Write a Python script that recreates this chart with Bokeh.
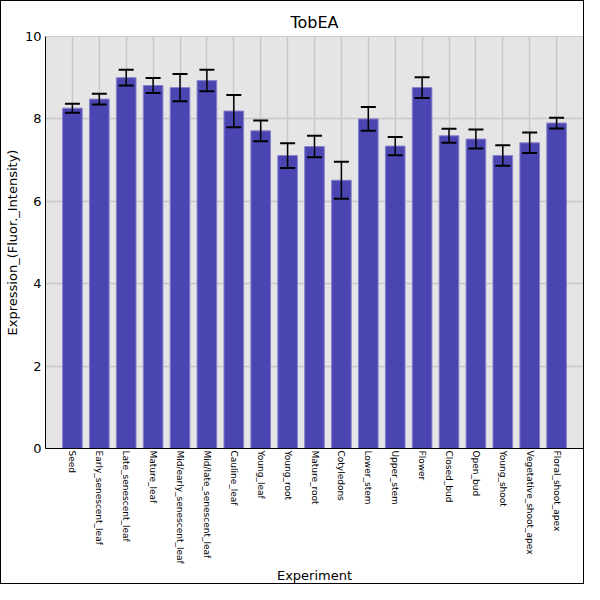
import math
from bokeh.plotting import figure
from bokeh.models import ColumnDataSource, Range1d, FixedTicker, Whisker, TeeHead
from bokeh.embed import file_html
from bokeh.resources import INLINE

categories = ["Seed", "Early_senescent_leaf", "Late_senescent_leaf", "Mature_leaf",
              "Mid/early_senescent_leaf", "Mid/late_senescent_leaf", "Cauline_leaf",
              "Young_leaf", "Young_root", "Mature_root", "Cotyledons", "Lower_stem",
              "Upper_stem", "Flower", "Closed_bud", "Open_bud", "Young_shoot",
              "Vegetative_shoot_apex", "Floral_shoot_apex"]
means = [8.26, 8.48, 9.00, 8.81, 8.76, 8.93, 8.19, 7.71, 7.11, 7.33, 6.51, 8.00,
         7.34, 8.76, 7.59, 7.51, 7.11, 7.42, 7.90]
errors = [0.11, 0.13, 0.19, 0.18, 0.33, 0.26, 0.39, 0.25, 0.30, 0.26, 0.45, 0.29,
          0.22, 0.25, 0.17, 0.23, 0.25, 0.25, 0.13]
y_ticks = [0, 2, 4, 6, 8, 10]

idx = list(range(len(categories)))
src = ColumnDataSource(dict(
    x=idx, top=means,
    upper=[m + e for m, e in zip(means, errors)],
    lower=[m - e for m, e in zip(means, errors)],
))

p = figure(width=584, height=584, output_backend="svg", toolbar_location=None,
           x_range=Range1d(-1, len(categories)), y_range=Range1d(0, 10),
           title="TobEA", min_border_left=42, min_border_right=2,
           min_border_top=35, min_border_bottom=130)
p.styles = {"border": "1px solid black"}

p.title.align = "center"
p.title.text_font = "DejaVu Sans"
p.title.text_font_size = "16px"
p.title.text_font_style = "normal"
p.title.text_color = "black"

p.background_fill_color = "#e5e5e5"
p.border_fill_color = "white"
p.outline_line_color = "#cccccc"

p.vbar(x="x", top="top", bottom=0, width=0.73, source=src,
       fill_color="#4b45b2", line_color="#8782cc", line_width=1)

w = Whisker(base="x", upper="upper", lower="lower", source=src,
            line_color="black", line_width=1.5, level="overlay",
            upper_head=TeeHead(size=15, line_width=2, line_color="black"),
            lower_head=TeeHead(size=15, line_width=2, line_color="black"))
p.add_layout(w)

p.xaxis.ticker = FixedTicker(ticks=idx)
p.xaxis.major_label_overrides = {i: c for i, c in enumerate(categories)}
p.xaxis.major_label_orientation = -math.pi / 2
p.xaxis.major_label_text_font = "DejaVu Sans"
p.xaxis.major_label_text_font_size = "9px"
p.xaxis.major_label_standoff = 2
p.xaxis.axis_label = "Experiment"
p.xaxis.axis_label_standoff = 1

p.yaxis.ticker = FixedTicker(ticks=y_ticks)
p.yaxis.major_label_text_font = "DejaVu Sans"
p.yaxis.major_label_text_font_size = "13px"
p.yaxis.major_label_standoff = 4
p.yaxis.axis_label = "Expression_(Fluor._Intensity)"
p.yaxis.axis_label_standoff = 2

for ax in (p.xaxis, p.yaxis):
    ax.axis_line_color = "black"
    ax.axis_line_width = 1
    ax.major_tick_line_color = None
    ax.minor_tick_line_color = None
    ax.major_tick_out = 0
    ax.major_tick_in = 0
    ax.axis_label_text_font = "DejaVu Sans"
    ax.axis_label_text_font_size = "13px"
    ax.axis_label_text_font_style = "normal"
    ax.axis_label_text_color = "black"
    ax.major_label_text_color = "black"

p.xgrid.ticker = FixedTicker(ticks=idx)
p.ygrid.ticker = FixedTicker(ticks=y_ticks)
for g in (p.xgrid, p.ygrid):
    g.grid_line_color = "#c8c8c8"
    g.grid_line_width = 1.5

open("out.html", "w").write(file_html(p, INLINE))
